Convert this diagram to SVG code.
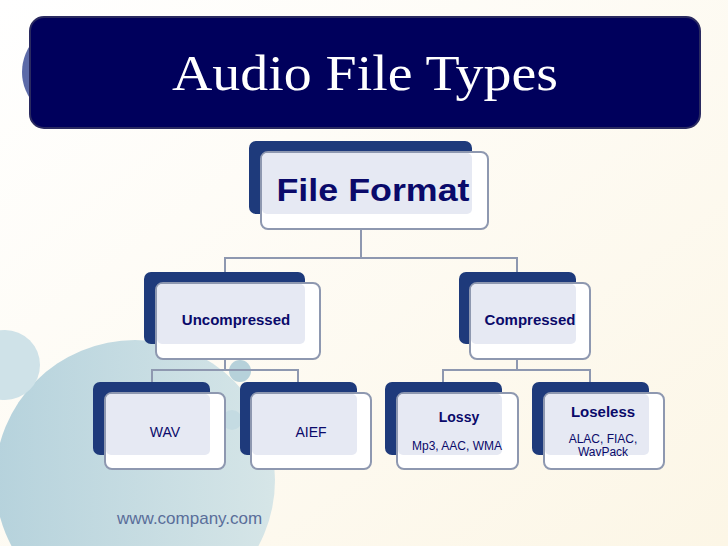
<svg xmlns="http://www.w3.org/2000/svg" width="728" height="546" viewBox="0 0 728 546">
<defs>
<linearGradient id="bg" x1="0" y1="0" x2="1" y2="1"><stop offset="0" stop-color="#ffffff"/><stop offset="1" stop-color="#fcf6e6"/></linearGradient>
<linearGradient id="bub" x1="0" y1="0" x2="1" y2="0"><stop offset="0" stop-color="#a9cbd8"/><stop offset="1" stop-color="#cfe2e6"/></linearGradient>
<style>
.dk{fill:#1e3a7b}
.fr{fill:#ffffff;stroke:#8e98b0;stroke-width:2}
.ov{fill:#e6e9f3}
.t{font-family:"Liberation Sans",Arial,sans-serif;fill:#0a0a6a;text-anchor:middle}
.b{font-weight:bold}
.c{fill:none;stroke:#8e98b0;stroke-width:2}
</style>
</defs>
<rect width="728" height="546" fill="url(#bg)"/>
<g id="bubbles">
<circle cx="135" cy="480" r="140" fill="url(#bub)" opacity="0.85"/>
<circle cx="5" cy="365" r="35" fill="#cfe2e8"/>
<circle cx="240" cy="371" r="11" fill="#b6d1da"/>
<circle cx="232" cy="420" r="10" fill="#c4dbe2"/>
</g>
<circle cx="70" cy="72" r="48" fill="#5c6aa8"/>
<g id="title">
<rect x="30" y="17" width="670" height="111" rx="14" fill="#00005c" stroke="#2a2a60" stroke-width="2"/>
<text x="365" y="90" font-family="'Liberation Serif','DejaVu Serif',serif" font-size="50" fill="#ffffff" text-anchor="middle" textLength="386" lengthAdjust="spacingAndGlyphs">Audio File Types</text>
</g>
<g id="connectors" class="c">
<path class="c" d="M361 229V258M225 272V258H517V272"/>
<path class="c" d="M225 359V370M152 393V370H298V393"/>
<path class="c" d="M517 359V370M443 393V370H590V393"/>
</g>
<g id="fileformat">
<rect class="dk" x="249" y="141" width="223" height="73" rx="7"/>
<rect class="fr" x="261" y="152" width="227" height="77" rx="7"/>
<rect class="ov" x="262" y="153" width="210" height="61" rx="5"/>
<text class="t b" x="373" y="201" font-size="32" textLength="193" lengthAdjust="spacingAndGlyphs">File Format</text>
</g>
<g id="uncompressed">
<rect class="dk" x="144" y="272" width="161" height="72" rx="7"/>
<rect class="fr" x="156" y="283" width="164" height="76" rx="7"/>
<rect class="ov" x="157" y="284" width="148" height="60" rx="5"/>
<text class="t b" x="236" y="325" font-size="15">Uncompressed</text>
</g>
<g id="compressed">
<rect class="dk" x="459" y="272" width="117" height="72" rx="7"/>
<rect class="fr" x="470" y="283" width="120" height="76" rx="7"/>
<rect class="ov" x="471" y="284" width="105" height="60" rx="5"/>
<text class="t b" x="530" y="325" font-size="15">Compressed</text>
</g>
<g id="wav">
<rect class="dk" x="93" y="382" width="117" height="73" rx="7"/>
<rect class="fr" x="105" y="393" width="120" height="76" rx="7"/>
<rect class="ov" x="106" y="394" width="104" height="61" rx="5"/>
<text class="t" x="165" y="437" font-size="14">WAV</text>
</g>
<g id="aief">
<rect class="dk" x="240" y="382" width="117" height="73" rx="7"/>
<rect class="fr" x="251" y="393" width="120" height="76" rx="7"/>
<rect class="ov" x="252" y="394" width="105" height="61" rx="5"/>
<text class="t" x="311" y="437" font-size="14">AIEF</text>
</g>
<g id="lossy">
<rect class="dk" x="385" y="382" width="117" height="73" rx="7"/>
<rect class="fr" x="397" y="393" width="121" height="76" rx="7"/>
<rect class="ov" x="398" y="394" width="104" height="61" rx="5"/>
<text class="t b" x="459" y="422" font-size="14">Lossy</text>
<text class="t" x="457" y="450" font-size="12">Mp3, AAC, WMA</text>
</g>
<g id="loseless">
<rect class="dk" x="532" y="382" width="117" height="73" rx="7"/>
<rect class="fr" x="544" y="393" width="120" height="76" rx="7"/>
<rect class="ov" x="545" y="394" width="104" height="61" rx="5"/>
<text class="t b" x="603" y="417" font-size="15">Loseless</text>
<text class="t" x="603" y="443" font-size="12">ALAC, FIAC,</text>
<text class="t" x="603" y="456" font-size="12">WavPack</text>
</g>
<text x="117" y="524" font-family="'Liberation Sans',Arial,sans-serif" font-size="17" fill="#5a6e9a">www.company.com</text>
</svg>
